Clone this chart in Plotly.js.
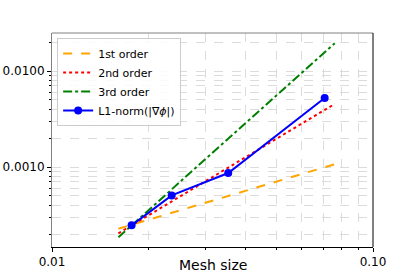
<!DOCTYPE html>
<html>
<head>
<meta charset="utf-8">
<script src="https://cdn.plot.ly/plotly-3.0.1.min.js"></script>
<style>html,body{margin:0;padding:0;background:#fff;}#chart{width:415px;height:277px;}</style>
</head>
<body>
<div id="chart"></div>
<script>
// Mesh sizes and measured L1-norm errors
const meshSize = [0.0177, 0.0236, 0.0354, 0.0707];
const l1Error = [0.000247, 0.000507, 0.000866, 0.00523];
// Reference slope lines (end points)
const refX = [0.0161, 0.076];
const order1Y = [0.000228, 0.00107];
const order2Y = [0.000204, 0.00455];
const order3Y = [0.000186, 0.0195];
// Tick values / labels
const xMajor = [0.01, 0.1];
const xMajorText = ["0.01", "0.10"];
const yMajor = [0.001, 0.01];
const yMajorText = ["0.0010", "0.0100"];
const xMinor = [0.02, 0.03, 0.04, 0.05, 0.06, 0.07, 0.08, 0.09];
const yMinor = [0.0002, 0.0003, 0.0004, 0.0005, 0.0006, 0.0007, 0.0008, 0.0009,
                0.002, 0.003, 0.004, 0.005, 0.006, 0.007, 0.008, 0.009, 0.02];
const xTitle = "Mesh size";

const font = "DejaVu Sans, sans-serif";
const traces = [
  {x: refX, y: order1Y, mode: "lines", name: "1st order", line: {color: "#ffa500", width: 2, dash: "dash"}},
  {x: refX, y: order2Y, mode: "lines", name: "2nd order", line: {color: "#ff0000", width: 2, dash: "dot"}},
  {x: refX, y: order3Y, mode: "lines", name: "3rd order", line: {color: "#008000", width: 2, dash: "dashdot"}},
  {x: meshSize, y: l1Error, mode: "lines+markers", name: "L1-norm(|∇<i>ϕ</i>|)",
   line: {color: "#0000ff", width: 2}, marker: {color: "#0000ff", size: 8}},
  // invisible carrier so the major-tick overlay axes get drawn
  {x: meshSize, y: l1Error, xaxis: "x2", yaxis: "y2", mode: "markers",
   marker: {opacity: 0}, showlegend: false, hoverinfo: "skip"}
];
const xr = [-2, -1];
const yr = [Math.log10(1.47e-4), Math.log10(0.0249)];
const gridAll = (maj, min) => maj.concat(min);
const layout = {
  width: 415, height: 277,
  margin: {l: 52, r: 42, t: 33, b: 30, pad: 0},
  paper_bgcolor: "#fff", plot_bgcolor: "#fff",
  font: {family: font, size: 12, color: "#000"},
  showlegend: true,
  legend: {x: 0.016, y: 0.977, xanchor: "left", yanchor: "top",
           bgcolor: "rgba(255,255,255,0.85)", bordercolor: "#cccccc", borderwidth: 1,
           font: {family: font, size: 11, color: "#000"}, tracegroupgap: 0},
  xaxis: {type: "log", range: xr, tickmode: "array", tickvals: gridAll(xMajor, xMinor),
          showticklabels: false, ticks: "outside", ticklen: 2, tickcolor: "#000",
          showgrid: true, gridcolor: "#d3d3d3", griddash: "dash", gridwidth: 0.8,
          showline: true, linecolor: "#000", linewidth: 1, zeroline: false,
          title: {text: ""}},
  xaxis2: {type: "log", range: xr, overlaying: "x", anchor: "y2", side: "bottom",
           tickmode: "array", tickvals: xMajor, ticktext: xMajorText,
           ticks: "outside", ticklen: 4, tickcolor: "#000", showgrid: false, showline: false,
           zeroline: false, tickfont: {size: 12, family: font}, title: {text: ""}},
  yaxis: {type: "log", range: yr, tickmode: "array", tickvals: gridAll(yMajor, yMinor),
          showticklabels: false, ticks: "outside", ticklen: 2, tickcolor: "#000",
          showgrid: true, gridcolor: "#d3d3d3", griddash: "dash", gridwidth: 0.8,
          showline: true, linecolor: "#808080", linewidth: 1, zeroline: false},
  yaxis2: {type: "log", range: yr, overlaying: "y", anchor: "x2", side: "left",
           tickmode: "array", tickvals: yMajor, ticktext: yMajorText,
           ticks: "outside", ticklen: 4, tickcolor: "#000", showgrid: false, showline: false,
           zeroline: false, tickfont: {size: 12, family: font}},
  annotations: [
    {text: xTitle, xref: "paper", yref: "paper", x: 0.5, y: 0, xanchor: "center", yanchor: "top",
     yshift: -8, showarrow: false, font: {family: font, size: 14, color: "#000"}}
  ],
  shapes: [
    {type: "line", xref: "paper", yref: "paper", x0: 0, x1: 1, y0: 1, y1: 1, line: {color: "#808080", width: 1}},
    {type: "line", xref: "paper", yref: "paper", x0: 1, x1: 1, y0: 0, y1: 1, line: {color: "#000", width: 1}}
  ]
};
Plotly.newPlot("chart", traces, layout, {displayModeBar: false, staticPlot: true});
</script>
</body>
</html>
